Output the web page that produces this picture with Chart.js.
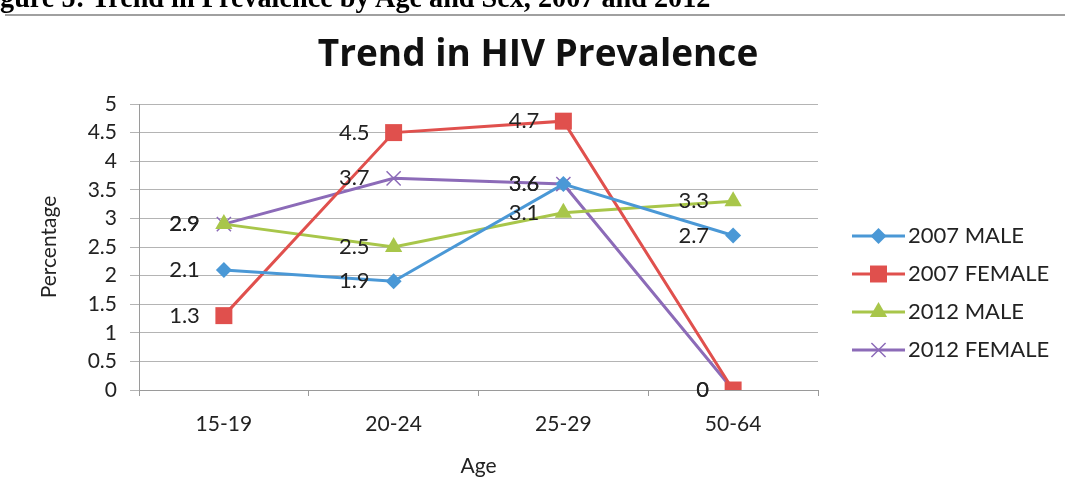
<!DOCTYPE html>
<html>
<head>
<meta charset="utf-8">
<script src="https://cdn.jsdelivr.net/npm/chart.js@4"></script>
<style>
  body { margin: 0; background: #fff; overflow: hidden; }
  #wrap { position: relative; width: 1065px; height: 501px; overflow: hidden; }
  #caption {
    position: absolute; left: -25px; top: -20px; white-space: nowrap; line-height: 1.15;
    font-family: "Liberation Serif", serif; font-weight: bold; font-size: 30px; color: #000;
    transform: scaleX(0.94); transform-origin: left top;
  }
  #rule { position: absolute; left: 5px; right: 0; top: 14px; height: 2px; background: #a0a0a0; }
  canvas { position: absolute; left: 0; top: 0; }
</style>
</head>
<body>
<div id="wrap">
  <canvas id="chart" width="1065" height="501"></canvas>
  <div id="caption">Figure 5: Trend in Prevalence by Age and Sex, 2007 and 2012</div>
  <div id="rule"></div>
</div>
<script>
// data
const ageGroups = ["15-19", "20-24", "25-29", "50-64"]
const male2007 = [2.1, 1.9, 3.6, 2.7]
const female2007 = [1.3, 4.5, 4.7, 0]
const male2012 = [2.9, 2.5, 3.1, 3.3]
const female2012 = [2.9, 3.7, 3.6, 0]
const seriesNames = ["2007 MALE", "2007 FEMALE", "2012 MALE", "2012 FEMALE"]
const chartTitle = "Trend in HIV Prevalence"

const FONT = "Lato, 'Open Sans', sans-serif"

function makeSeries(label, data, color, style, radius){
    const cross = style === "crossRot"
    return {
        label: label,
        data: data,
        borderColor: color,
        backgroundColor: color,
        borderWidth: 3,
        pointStyle: style,
        pointRadius: radius,
        pointBackgroundColor: color,
        pointBorderColor: cross ? color : "rgba(0,0,0,0)",
        pointBorderWidth: cross ? 1.5 : 0,
        tension: 0
    }
}

// numbers written left of each point
const pointLabels = {
    id: "pointLabels",
    afterDatasetsDraw(chart){
        const ctx = chart.ctx
        ctx.save()
        ctx.font = "22px " + FONT
        ctx.fillStyle = "#222"
        ctx.textAlign = "right"
        ctx.textBaseline = "middle"
        chart.data.datasets.forEach((ds, i) => {
            chart.getDatasetMeta(i).data.forEach((pt, j) => {
                ctx.fillText(String(ds.data[j]), pt.x - 24, pt.y)
            })
        })
        ctx.restore()
    }
}

// title centred on the whole picture, plus excel-like legend
const sideLegend = {
    id: "sideLegend",
    afterDraw(chart){
        const ctx = chart.ctx
        ctx.save()
        ctx.font = "bold 37px 'Open Sans', sans-serif"
        ctx.fillStyle = "#111"
        ctx.textAlign = "center"
        ctx.textBaseline = "middle"
        ctx.fillText(chartTitle, 538, 55)
        ctx.restore()

        const x0 = 852, x1 = 905, top = 236, step = 38
        chart.data.datasets.forEach((ds, i) => {
            const y = top + i * step
            ctx.save()
            ctx.strokeStyle = ds.borderColor
            ctx.lineWidth = 3
            ctx.beginPath()
            ctx.moveTo(x0, y)
            ctx.lineTo(x1, y)
            ctx.stroke()
            ctx.fillStyle = ds.pointBackgroundColor
            ctx.strokeStyle = ds.pointBorderColor
            ctx.lineWidth = ds.pointBorderWidth
            Chart.helpers.drawPoint(ctx, {
                pointStyle: ds.pointStyle,
                radius: ds.pointRadius,
                borderWidth: ds.pointBorderWidth
            }, (x0 + x1) / 2, y)
            ctx.font = "22px " + FONT
            ctx.fillStyle = "#222"
            ctx.textAlign = "left"
            ctx.textBaseline = "middle"
            ctx.fillText(ds.label, x1 + 3, y)
            ctx.restore()
        })
    }
}

new Chart(document.getElementById("chart"), {
    type: "line",
    data: {
        labels: ageGroups,
        datasets: [
            makeSeries(seriesNames[0], male2007, "#4a98d6", "rectRot", 8),
            makeSeries(seriesNames[1], female2007, "#e0504d", "rect", 12),
            makeSeries(seriesNames[2], male2012, "#a8c64a", "triangle", 10),
            makeSeries(seriesNames[3], female2012, "#8c6bb8", "crossRot", 10)
        ]
    },
    options: {
        responsive: false,
        animation: false,
        layout: { padding: { left: 37, right: 247, top: 104, bottom: 0 } },
        scales: {
            x: {
                offset: true,
                border: { color: "#9a9a9a", width: 1 },
                grid: { offset: true, drawOnChartArea: false, drawTicks: true, tickLength: 6, color: "#9a9a9a" },
                ticks: { padding: 16, color: "#222", font: { family: FONT, size: 21 } },
                title: { display: true, text: "Age", color: "#222", padding: { top: 0, bottom: 22 }, font: { family: FONT, size: 21 } },
                afterFit: scale => { scale.height = 111 }
            },
            y: {
                min: 0,
                max: 5,
                border: { color: "#9a9a9a", width: 1 },
                grid: { color: "#b4b4b4", tickLength: 9 },
                ticks: { stepSize: 0.5, padding: 13, color: "#222", font: { family: FONT, size: 21 }, callback: v => String(v) },
                title: { display: true, text: "Percentage", color: "#222", padding: { top: 0, bottom: 0 }, font: { family: FONT, size: 21 } },
                afterFit: scale => { scale.width = 102 }
            }
        },
        plugins: {
            legend: { display: false },
            tooltip: { enabled: false },
            title: { display: false }
        }
    },
    plugins: [pointLabels, sideLegend]
})
</script>
</body>
</html>
